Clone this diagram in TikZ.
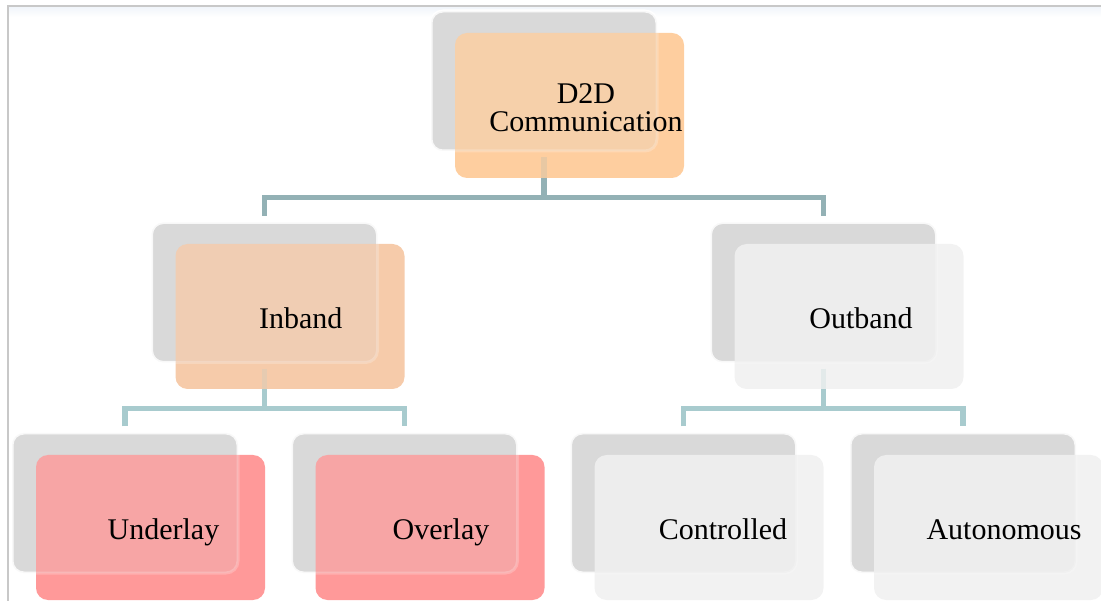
\documentclass[tikz,border=0pt]{standalone}
\usepackage{fontspec}
\setmainfont{Liberation Serif}
\definecolor{boxgray}{HTML}{D9D9D9}
\definecolor{orangefront}{HTML}{FECE9F}
\definecolor{peachfront}{HTML}{F6CBAA}
\definecolor{redfront}{HTML}{FF9999}
\definecolor{lightfront}{HTML}{F2F2F2}
\definecolor{connA}{HTML}{93B1B5}
\definecolor{connB}{HTML}{A8CBCE}
\definecolor{framegray}{HTML}{C8C8C8}
\definecolor{bandblue}{HTML}{F1F5FA}
\begin{document}
\begin{tikzpicture}[x=1pt,y=-1pt,
  backbox/.style={rectangle, rounded corners=12, minimum width=226, minimum height=140, fill=boxgray, draw=white, line width=3, inner sep=0},
  backveil/.style={rectangle, rounded corners=12, minimum width=226, minimum height=140, fill=boxgray, fill opacity=0.2, draw=white, draw opacity=0.22, line width=3, inner sep=0},
  frontbox/.style={rectangle, rounded corners=12, minimum width=229, minimum height=145, inner sep=0, draw=none},
  lbl/.style={font=\fontsize{30}{28}\selectfont, anchor=base, inner sep=0, align=center},
  conn/.style={line width=5.5, line cap=butt, line join=miter, shorten <=5, shorten >=5}
]
\useasboundingbox (0,0) rectangle (1101,601);
% frame
\shade[top color=bandblue, bottom color=white] (9,7) rectangle (1101,17);
\draw[framegray, line width=1.5] (8,601) -- (8,6) -- (1101,6);

% back boxes
\node[backbox] (b1) at (544,81) {};
\node[backbox] (b2) at (264.5,292.5) {};
\node[backbox] (b3) at (823.5,292.5) {};
\node[backbox] (b4) at (125,503) {};
\node[backbox] (b5) at (404.5,503) {};
\node[backbox] (b6) at (683.5,503) {};
\node[backbox] (b7) at (963,503) {};

% connectors
\draw[conn, connA, shorten >=0] (b1.south) -- ++(0,48) coordinate (j1);
\draw[conn, connA] (b2.north) -- ++(0,-23.5) -| (b3.north);
\draw[conn, connB, shorten >=0] (b2.south) -- ++(0,47.5) coordinate (j2);
\draw[conn, connB] (b4.north) -- ++(0,-23) -| (b5.north);
\draw[conn, connB, shorten >=0] (b3.south) -- ++(0,47.5) coordinate (j3);
\draw[conn, connB] (b6.north) -- ++(0,-23) -| (b7.north);

% front boxes
\node[frontbox, fill=orangefront] (f1) at (569.5,105.5) {};
\node[frontbox, fill=peachfront] (f2) at (290,316.5) {};
\node[frontbox, fill=lightfront] (f3) at (849,316.5) {};
\node[frontbox, fill=redfront] (f4) at (150.5,527.5) {};
\node[frontbox, fill=redfront] (f5) at (430,527.5) {};
\node[frontbox, fill=lightfront] (f6) at (709,527.5) {};
\node[frontbox, fill=lightfront] (f7) at (988.5,527.5) {};

% faint connector traces through front boxes
\draw[conn, connA, opacity=0.2, shorten >=0] (b1.south) -- (j1);
\draw[conn, connB, opacity=0.2, shorten >=0] (b2.south) -- (j2);
\draw[conn, connB, opacity=0.2, shorten >=0] (b3.south) -- (j3);

% veils of back boxes over the front boxes
\node[backveil] (v1) at (b1) {};
\node[backveil] (v2) at (b2) {};
\node[backveil] (v3) at (b3) {};
\node[backveil] (v4) at (b4) {};
\node[backveil] (v5) at (b5) {};
\node[backveil] (v6) at (b6) {};
\node[backveil] (v7) at (b7) {};

% labels
\node[lbl, anchor=center] (t1) at (586,107.5) {D2D\\Communication};
\node[lbl] (t2) at (300.7,329) {Inband};
\node[lbl] (t3) at (861,329) {Outband};
\node[lbl] (t4) at (163.5,539.5) {Underlay};
\node[lbl] (t5) at (441,539.5) {Overlay};
\node[lbl] (t6) at (723,539.5) {Controlled};
\node[lbl] (t7) at (1004,539.5) {Autonomous};
\end{tikzpicture}
\end{document}
